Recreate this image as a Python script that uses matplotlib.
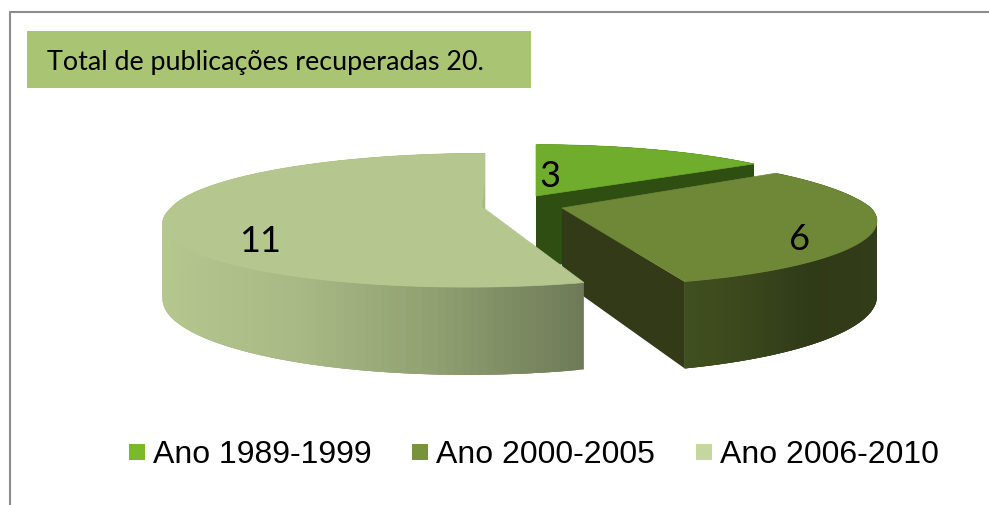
import numpy as np
import matplotlib
matplotlib.use('Agg')
from matplotlib import pyplot as plt
from matplotlib.collections import PolyCollection
from matplotlib.colors import LinearSegmentedColormap
from matplotlib.patches import Polygon, Rectangle

labels = ['Ano 1989-1999', 'Ano 2000-2005', 'Ano 2006-2010']
values = [3, 6, 11]
title_text = 'Total de publicações recuperadas 20.'

top_colors = ['#70ad2c', '#6f8838', '#b5c78f']
cut_colors = ['#2f4e12', '#333a18', '#a9bb85']
legend_colors = ['#7ab929', '#78933b', '#c5d69f']
wall_colors = [['#2f4e12', '#2f4e12'],
               ['#41501f', '#3a471c', '#2f3a17', '#333c19'],
               ['#b5c68f', '#a8b985', '#8f9f70', '#6f7b58']]

# apex x, apex y, x radius, y radius, skew back, skew front
shape = [(536, 197, 296, 60, 0, 0),
         (562, 209, 309, 65, 26, 8),
         (485, 210, 315, 65, 0, -15)]
label_pos = [(550, 176), (800, 239), (260, 241)]
persp = 0.168
depth = 73


def project(th, r, s):
    x0, y0, a, b, sb, sf = s
    X = r * np.sin(th)
    Y = -r * np.cos(th)
    w = 1 - persp * Y
    skew = np.where(Y > 0, sf, sb)
    return x0 + (a * X + skew * Y) / w, y0 + b * Y / w, depth / w


fig = plt.figure(figsize=(9.89, 5.06), dpi=100)
ax = fig.add_axes([0, 0, 1, 1])
ax.set_xlim(0, 989)
ax.set_ylim(506, 0)
ax.axis('off')

# frame, no bottom line
ax.plot([9.5, 9.5, 989], [506, 12.5, 12.5], color='#8c8c8c', lw=1.5)

ax.add_patch(Rectangle((27, 31.5), 504, 57, color='#a9c574', lw=0))
ax.text(47, 62, title_text, family='Lato', fontsize=19.4, va='center', color='black')

edges = np.cumsum([0] + values) / sum(values) * 2 * np.pi
for i in range(3):
    s = shape[i]
    th = np.linspace(edges[i], edges[i + 1], 160)
    x, y, d = project(th, 1.0, s)

    # outer wall, strips shaded by x position and overlapped to hide seams
    cmap = LinearSegmentedColormap.from_list('w', wall_colors[i])
    t = (x - x.min()) / (x.max() - x.min() + 1e-9)
    if i == 1:
        t = (x - 686) / (877 - 686)
    strips = []
    for j in range(len(x) - 1):
        n = min(j + 3, len(x) - 1)
        strips.append([(x[j], y[j]), (x[n], y[n]), (x[n], y[n] + d[n]), (x[j], y[j] + d[j])])
    cols = cmap(np.clip(t[:-1], 0, 1))
    ax.add_collection(PolyCollection(strips, facecolors=cols, linewidths=0))

    # cut walls from the apex, slice 3 shows only a sliver
    x0, y0 = s[0], s[1]
    if i < 2:
        ax.add_patch(Polygon([(x0, y0), (x[-1], y[-1]), (x[-1], y[-1] + d[-1]), (x0, y0 + depth)],
                             facecolor=cut_colors[i], lw=0))
    if i == 0:
        ax.add_patch(Polygon([(x0, y0), (x[0], y[0]), (x[0], y[0] + d[0]), (x0, y0 + depth)],
                             facecolor=cut_colors[i], lw=0))

    ax.add_patch(Polygon(np.r_[[(x0, y0)], np.c_[x, y]], facecolor=top_colors[i],
                         edgecolor=top_colors[i], lw=0.5))
    if i == 2:
        ax.add_patch(Polygon([(x0, y0), (x0, y0 - 26), (x0 - 3, y0 - 2)], facecolor=cut_colors[2], lw=0))
    ax.text(label_pos[i][0], label_pos[i][1], str(values[i]), family='Lato', fontsize=26,
            ha='center', va='center', color='black')

# legend
sw_x = [129, 412, 696]
for i in range(3):
    ax.add_patch(Rectangle((sw_x[i], 445), 16, 16, color=legend_colors[i], lw=0))
    ax.text(sw_x[i] + 24, 455, labels[i], family='Liberation Sans', fontsize=23,
            va='center', color='black')

fig.savefig('out.png', dpi=100)
